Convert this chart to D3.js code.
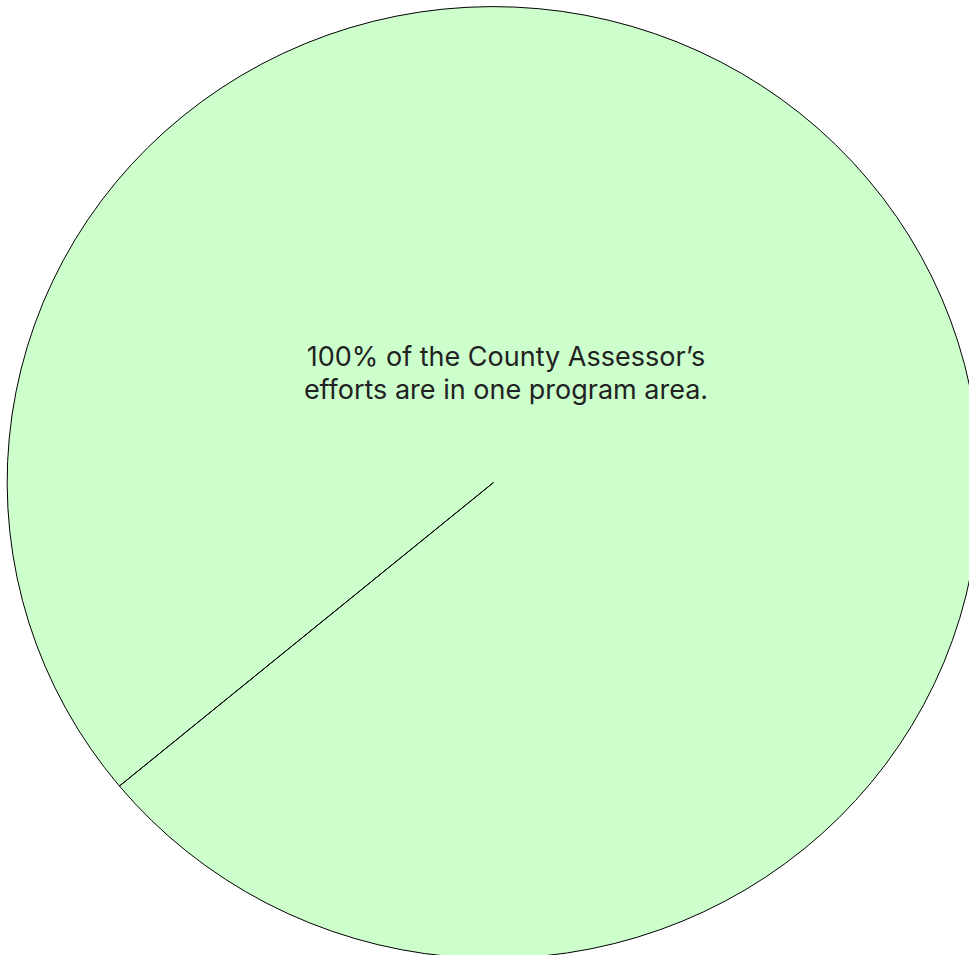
<!DOCTYPE html>
<html>
<head>
<meta charset="utf-8">
<script src="https://cdn.jsdelivr.net/npm/d3@7"></script>
<style>
    body { margin: 0; background: #fff; }
    svg { display: block; }
</style>
</head>
<body>
<div class="pie-container"></div>
<script>
// Program areas and share of effort (%)
let programs = ["Property Assessment", "Other Programs"]
let shares = [100, 0]

let captionLines = [
    "100% of the County Assessor\u2019s",
    "efforts are in one program area."
]

let colors = {
    fill: "#ccffcc",
    stroke: "#000000",
    text: "#222222"
}

const width = 969;
const height = 955;

// pie is drawn as a circle then stretched a bit to match the ellipse
const r = 480;
const cx = 493.5, cy = 482.5;
const sx = 486 / r, sy = 475.5 / r;

const data = programs.map((p, i) => ({ program: p, share: shares[i] }))

const pie = d3.pie()
    .value(d => d.share)
    .sort(null)
    .startAngle(4.02)
    .endAngle(4.02 + 2 * Math.PI)

const arc = d3.arc()
    .innerRadius(0)
    .outerRadius(r)

const svg = d3.select('.pie-container')
    .append('svg')
    .attr('width', width)
    .attr('height', height)

const slices = svg.append('g')
    .attr('class', 'slices')
    .attr('transform', `translate(${cx}, ${cy}) scale(${sx}, ${sy})`)

slices.selectAll('path')
    .data(pie(data))
    .join('path')
    .attr('d', arc)
    .attr('fill', colors.fill)
    .attr('stroke', colors.stroke)
    .attr('stroke-width', 1)
    .attr('vector-effect', 'non-scaling-stroke')

// caption
const caption = svg.append('text')
    .attr('x', 506)
    .attr('y', 366)
    .attr('text-anchor', 'middle')
    .attr('font-family', 'Inter, "Noto Sans", sans-serif')
    .attr('font-size', '27px')
    .attr('fill', colors.text)

caption.selectAll('tspan')
    .data(captionLines)
    .join('tspan')
    .attr('x', 506)
    .attr('dy', (d, i) => i === 0 ? 0 : 33)
    .text(d => d)
</script>
</body>
</html>
